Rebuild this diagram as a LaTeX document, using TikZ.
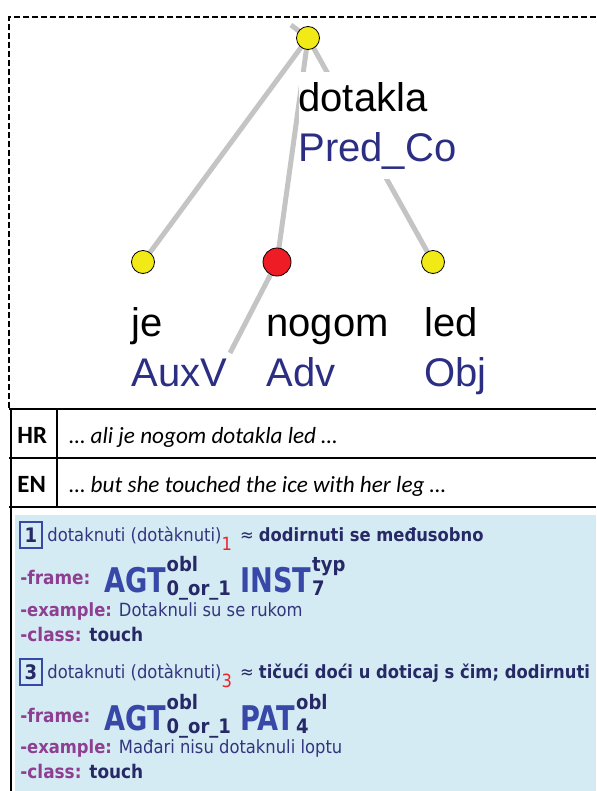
\documentclass[tikz,border=0pt]{standalone}
\usepackage{fontspec}
\setmainfont{Liberation Sans}
\newfontfamily\tablefont{Carlito}
\newfontfamily\panelfont[FakeStretch=0.9]{DejaVu Sans}
\newfontfamily\rolefont[FakeStretch=0.8]{DejaVu Sans}
\usepackage{xcolor}
\definecolor{edgegray}{HTML}{C4C4C4}
\definecolor{dotyellow}{HTML}{F2EA16}
\definecolor{dotred}{HTML}{EE1C24}
\definecolor{functorblue}{HTML}{2B2E83}
\definecolor{panelblue}{HTML}{D5EBF3}
\definecolor{navy}{HTML}{33357F}
\definecolor{navydark}{HTML}{262966}
\definecolor{roleblue}{HTML}{3848A8}
\definecolor{labelpurple}{HTML}{8E3F92}
\definecolor{sensered}{HTML}{E8262C}

\tikzset{
  dep/.style={draw=edgegray, line width=2.5pt},
  leaf/.style={circle, draw=black, line width=0.4pt, fill=dotyellow, minimum size=11.5pt, inner sep=0pt},
  focus/.style={leaf, fill=dotred, minimum size=14pt},
  word/.style={anchor=base west, inner sep=0pt, font=\fontsize{20}{24}\selectfont},
  functor/.style={word, text=functorblue},
  rule/.style={line width=1pt},
  cell/.style={anchor=base west, inner sep=0pt, font=\tablefont\fontsize{11.6}{14}\selectfont},
  sensebox/.style={draw=roleblue, line width=0.9pt, minimum width=11pt, minimum height=13pt, inner sep=0pt,
    font=\panelfont\bfseries\fontsize{10}{11}\selectfont, text=navydark},
  entry/.style={anchor=base west, inner sep=0pt, font=\panelfont\fontsize{9.1}{10}\selectfont, text=navy},
  tag/.style={entry, font=\panelfont\bfseries\fontsize{9.4}{10}\selectfont, text=labelpurple},
  role/.style={anchor=base west, inner sep=0pt, font=\rolefont\bfseries\fontsize{17}{18}\selectfont, text=roleblue},
  slot/.style={anchor=base west, inner sep=0pt, font=\panelfont\bfseries\fontsize{10}{11}\selectfont, text=navydark},
  up/.style={slot, yshift=10.5pt},
  down/.style={slot, yshift=-1.5pt}
}

\begin{document}
\begin{tikzpicture}[x=0.5pt, y=-0.5pt]
    \useasboundingbox (0,0) rectangle (596,791);

    % Dashed frame round the tree
    \draw[dashed, dash pattern=on 3pt off 1.5pt, line width=0.8pt] (9,408) -- (9,17) -- (596,17);

    % Tree positions
    \coordinate (top) at (308,38);
    \coordinate (je) at (143,262);
    \coordinate (nogom) at (277,262);
    \coordinate (led) at (433,262);
    \coordinate (parent) at (291,25);
    \coordinate (loose) at (230,353);

    % Edges
    \draw[dep] (top) -- (parent);
    \draw[dep] (top) -- (je);
    \draw[dep] (top) -- (nogom);
    \draw[dep] (top) -- (led);
    \draw[dep] (nogom) -- (loose);

    % Label background of the root
    \fill[white] (299,72) rectangle (462,179);

    % Nodes
    \node[leaf] (top-dot) at (top) {};
    \node[leaf] (je-dot) at (je) {};
    \node[focus] (nogom-dot) at (nogom) {};
    \node[leaf] (led-dot) at (led) {};

    % Labels
    \node[word] (top-w) at (298,112) {dotakla};
    \node[functor] (top-f) at (298,162) {Pred\_Co};
    \node[word] (je-w) at (131,336) {je};
    \node[functor] (je-f) at (131,386) {AuxV};
    \node[word] (nogom-w) at (266,336) {nogom};
    \node[functor] (nogom-f) at (266,386) {Adv};
    \node[word] (led-w) at (424,336) {led};
    \node[functor] (led-f) at (424,386) {Obj};

    % Sentence table
    \foreach \y in {409,458,507}
        \draw[rule] (9,\y) -- (596,\y);
    \draw[rule] (10.5,408.5) -- (10.5,791);
    \draw[rule] (57,409) -- (57,507);
    \node[cell, font=\tablefont\bfseries\fontsize{12.4}{14}\selectfont] (hr) at (17,443) {HR};
    \node[cell, font=\tablefont\itshape\fontsize{11.6}{14}\selectfont] (hr-text) at (69,443) {… ali je nogom dotakla led …};
    \node[cell, font=\tablefont\bfseries\fontsize{12.4}{14}\selectfont] (en) at (17,492) {EN};
    \node[cell, font=\tablefont\itshape\fontsize{11.6}{14}\selectfont] (en-text) at (69,492) {… but she touched the ice with her leg …};

    % Valency lexicon entries
    \fill[panelblue] (15,515) rectangle (596,791);

    % Sense 1
    \node[sensebox] (num1) at (31,535) {1};
    \node[entry] (lemma1) at (47,541) {dotaknuti (dotàknuti)\raisebox{-4.5pt}{\color{sensered}1}\hspace{4pt}{\color{navydark}≈ \bfseries dodirnuti se međusobno}};
    \node[tag] (frame1) at (20,584) {-frame:};
    \node[role] (agt1) at (104,592) {AGT};
    \node[up] (agt1-up) at (agt1.base east) {obl};
    \node[down] (agt1-down) at (agt1.base east) {0\_or\_1};
    \node[role] (inst1) at (240,592) {INST};
    \node[up] (inst1-up) at (inst1.base east) {typ};
    \node[down] (inst1-down) at (inst1.base east) {7};
    \node[entry] (example1) at (20,616) {{\bfseries\color{labelpurple}-example:} Dotaknuli su se rukom};
    \node[tag] (class1) at (20,641) {-class: {\color{navydark}touch}};

    % Sense 3
    \node[sensebox] (num3) at (31,672) {3};
    \node[entry] (lemma3) at (47,678) {dotaknuti (dotàknuti)\raisebox{-4.5pt}{\color{sensered}3}\hspace{4pt}{\color{navydark}≈ \bfseries tičući doći u doticaj s čim; dodirnuti}};
    \node[tag] (frame3) at (20,722) {-frame:};
    \node[role] (agt3) at (104,730) {AGT};
    \node[up] (agt3-up) at (agt3.base east) {obl};
    \node[down] (agt3-down) at (agt3.base east) {0\_or\_1};
    \node[role] (pat3) at (240,730) {PAT};
    \node[up] (pat3-up) at (pat3.base east) {obl};
    \node[down] (pat3-down) at (pat3.base east) {4};
    \node[entry] (example3) at (20,753) {{\bfseries\color{labelpurple}-example:} Mađari nisu dotaknuli loptu};
    \node[tag] (class3) at (20,778) {-class: {\color{navydark}touch}};
\end{tikzpicture}
\end{document}
